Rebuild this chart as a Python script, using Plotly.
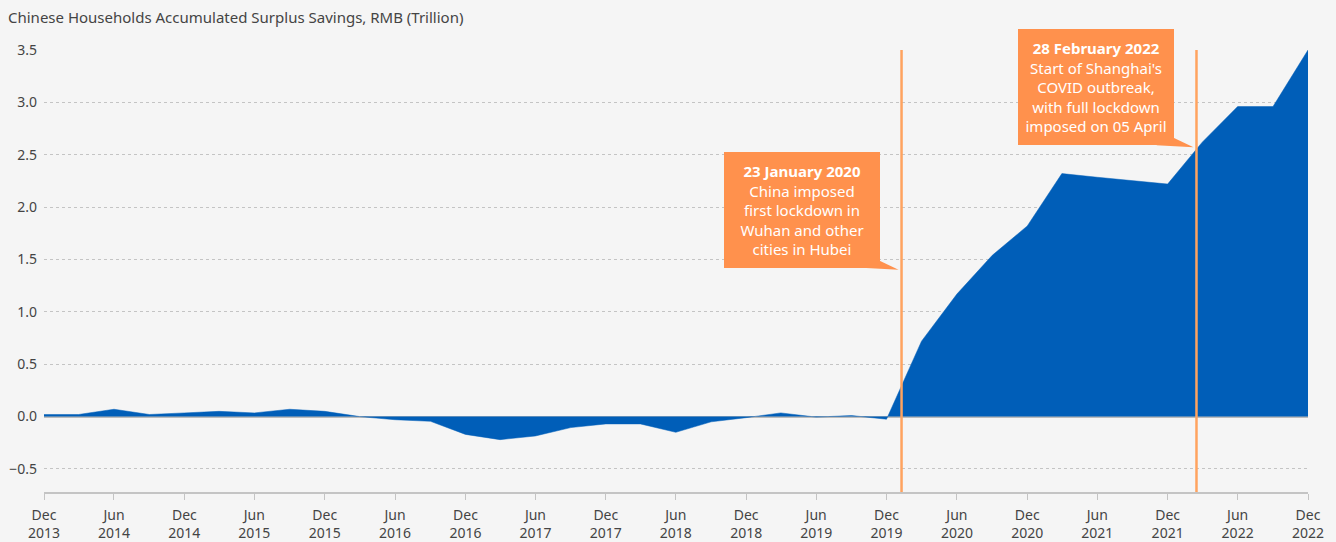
import pandas as pd
import plotly.graph_objects as go

# Quarterly dates (quarter-end months), Dec 2013 - Dec 2022
quarters = pd.date_range("2013-12-01", "2022-12-01", freq="3MS") + pd.Timedelta(days=14)

# Accumulated surplus savings, RMB trillion
savings = [0.02, 0.02, 0.07, 0.02, 0.035, 0.05, 0.035, 0.07, 0.05, 0.0,
           -0.03, -0.045, -0.17, -0.22, -0.185, -0.105, -0.07, -0.07, -0.15, -0.05,
           -0.01, 0.035, -0.005, 0.01, -0.025, 0.72, 1.17, 1.54, 1.82, 2.32,
           2.285, 2.25, 2.22, 2.62, 2.96, 2.96, 3.5]

tick_dates = quarters[::2]
tick_labels = [f"{d:%b}<br>{d:%Y}" for d in tick_dates]

event_dates = ["2020-01-23", "2022-02-28"]
event_texts = [
    "<b>23 January 2020</b><br>China imposed<br>first lockdown in<br>Wuhan and other<br>cities in Hubei",
    "<b>28 February 2022</b><br>Start of Shanghai's<br>COVID outbreak,<br>with full lockdown<br>imposed on 05 April",
]
event_box_y = [1.42, 2.59]

BLUE = "#005EB8"
ORANGE = "#FF914D"
LINE_ORANGE = "#FFA35F"
BG = "#F5F5F5"
FONT = "Noto Sans"
Y_MIN = -0.72

fig = go.Figure()
fig.add_trace(go.Scatter(x=quarters, y=savings, mode="lines", fill="tozeroy",
                         fillcolor=BLUE, line=dict(color=BLUE, width=0.5),
                         hoverinfo="x+y"))

# event lines + callouts
for d, txt, by in zip(event_dates, event_texts, event_box_y):
    fig.add_shape(type="line", xref="x", yref="y", x0=d, x1=d, y0=3.5, y1=Y_MIN,
                  line=dict(color=LINE_ORANGE, width=2.5))
    fig.add_annotation(x=d, y=by, xref="x", yref="y", xanchor="right", yanchor="bottom",
                       xshift=-22, text=txt, showarrow=False, align="center",
                       width=150, height=110, bgcolor=ORANGE, bordercolor=ORANGE,
                       borderwidth=1, borderpad=2,
                       font=dict(family=FONT, size=15, color="white"))
    # callout tail
    fig.add_shape(type="path", xref="x", yref="y", xsizemode="pixel", ysizemode="pixel",
                  xanchor=d, yanchor=by, path="M -40 0 L -3 -2 L -24 8 Z",
                  fillcolor=ORANGE, line=dict(width=0))

fig.update_layout(
    width=1336, height=542,
    margin=dict(l=44, r=28, t=50, b=50),
    paper_bgcolor=BG, plot_bgcolor=BG,
    showlegend=False,
    font=dict(family=FONT, size=14, color="#444"),
    title=dict(text="Chinese Households Accumulated Surplus Savings, RMB (Trillion)",
               x=8 / 1336, xref="container", xanchor="left",
               y=1 - 18 / 542, yref="container", yanchor="middle",
               font=dict(family=FONT, size=15, color="#444")),
)
fig.update_xaxes(range=[quarters[0], quarters[-1]], tickvals=tick_dates, ticktext=tick_labels,
                 showgrid=False, showline=True, linecolor="#c4c4c4", linewidth=1.5,
                 ticks="outside", ticklen=6, tickcolor="#c4c4c4", tickwidth=1,
                 ticklabelstandoff=3, automargin=False,
                 tickfont=dict(family=FONT, size=14, color="#444"))
fig.update_yaxes(range=[Y_MIN, 3.5], dtick=0.5, tick0=0, tickformat=".1f",
                 showgrid=True, gridcolor="#c4c4c4", griddash="dot", gridwidth=1,
                 zeroline=True, zerolinecolor="#bbb", zerolinewidth=1.5,
                 ticklabelstandoff=6, automargin=False,
                 tickfont=dict(family=FONT, size=14, color="#444"))

fig.write_html("out.html", config={"displayModeBar": False},
               post_script="document.body.style.margin='0';document.body.style.background='#F5F5F5';")
